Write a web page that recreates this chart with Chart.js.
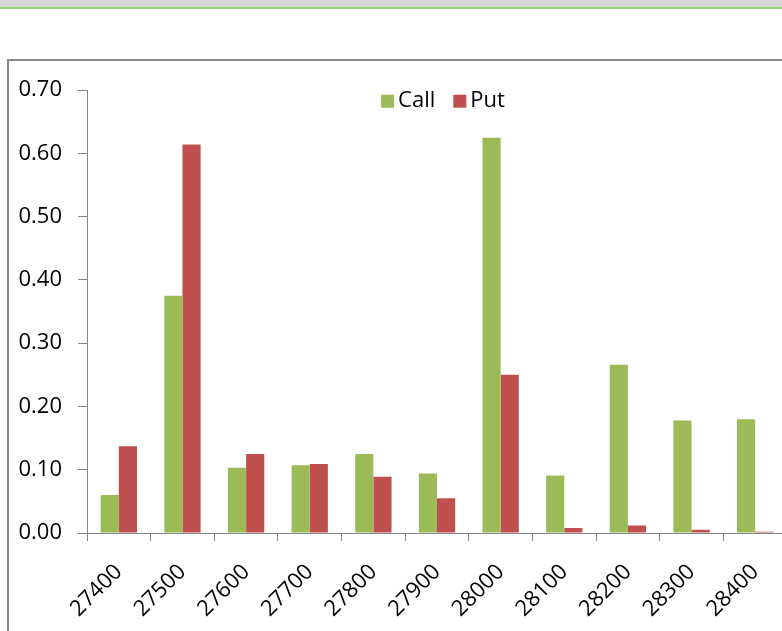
<!DOCTYPE html>
<html lang="en">

<head>
    <meta charset="UTF-8">
    <title>Call / Put</title>
    <script src="https://cdn.jsdelivr.net/npm/chart.js"></script>
    <style>
        html, body { margin: 0; padding: 0; background: #fff; overflow: hidden; }
        .topbar { height: 7px; background: #d9d9d9; border-bottom: 2px solid #92d36e; }
        .frame { position: absolute; left: 7px; top: 59px; width: 790px; height: 600px; border: 2px solid #888; background: #fff; }
    </style>
</head>

<body>
    <div class="topbar"></div>
    <div class="frame">
        <canvas id="myChart" width="790" height="600"></canvas>
    </div>
    <script>
        // 資料
        const strikes = ['27400', '27500', '27600', '27700', '27800', '27900', '28000', '28100', '28200', '28300', '28400'];
        const callValues = [0.060, 0.375, 0.103, 0.107, 0.125, 0.094, 0.625, 0.091, 0.266, 0.178, 0.180];
        const putValues = [0.137, 0.614, 0.125, 0.109, 0.089, 0.055, 0.250, 0.008, 0.012, 0.005, 0.002];
        const yTicks = [0, 0.1, 0.2, 0.3, 0.4, 0.5, 0.6, 0.7];

        const font = { family: 'Open Sans', size: 22 };
        const textColor = '#000';

        // 圖例畫在圖表區裡面上方（像 Excel 那樣）
        const insideLegend = {
            id: 'insideLegend',
            afterDraw(chart) {
                const c = chart.ctx;
                const area = chart.chartArea;
                const sets = chart.data.datasets;
                c.save();
                c.font = font.size + 'px "' + font.family + '"';
                c.textBaseline = 'middle';
                c.textAlign = 'left';
                const box = 13, gapText = 4, gapItem = 18;
                const widths = sets.map(ds => c.measureText(ds.label).width);
                let total = 0;
                widths.forEach((w, i) => { total += box + gapText + w + (i ? gapItem : 0); });
                let x = (area.left + area.right) / 2 + 6 - total / 2;
                const y = area.top + 11;
                sets.forEach((ds, i) => {
                    c.fillStyle = ds.backgroundColor;
                    c.fillRect(x, y - box / 2, box, box);
                    c.fillStyle = textColor;
                    c.fillText(ds.label, x + box + gapText, y);
                    x += box + gapText + widths[i] + gapItem;
                });
                c.restore();
            }
        };

        const ctx = document.getElementById('myChart');
        const chart = new Chart(ctx, {
            type: 'bar',
            data: {
                labels: strikes,
                datasets: [{
                    label: 'Call',
                    data: callValues,
                    backgroundColor: '#9bbb59'
                }, {
                    label: 'Put',
                    data: putValues,
                    backgroundColor: '#c0504d'
                }]
            },
            options: {
                responsive: false,
                animation: false,
                categoryPercentage: 0.571,
                barPercentage: 1.0,
                layout: {
                    padding: { left: 0, top: 29, right: 12, bottom: 0 }
                },
                scales: {
                    x: {
                        grid: { offset: true, drawOnChartArea: false, tickLength: 8, color: '#868686' },
                        border: { color: '#868686' },
                        ticks: { font: font, color: textColor, maxRotation: 45, minRotation: 45, padding: 18 },
                        afterFit: function (scale) { scale.height = 128; }
                    },
                    y: {
                        min: 0,
                        max: 0.7,
                        afterBuildTicks: function (scale) {
                            scale.ticks = yTicks.map(v => ({ value: v }));
                        },
                        grid: { drawOnChartArea: false, tickLength: 9, color: '#868686' },
                        border: { color: '#868686' },
                        ticks: {
                            font: font, color: textColor, padding: 16,
                            callback: v => Number(v).toFixed(2)
                        },
                        afterFit: function (scale) { scale.width = 78; }
                    }
                },
                plugins: {
                    legend: { display: false },
                    tooltip: { enabled: false }
                }
            },
            plugins: [insideLegend]
        });
    </script>
</body>

</html>
